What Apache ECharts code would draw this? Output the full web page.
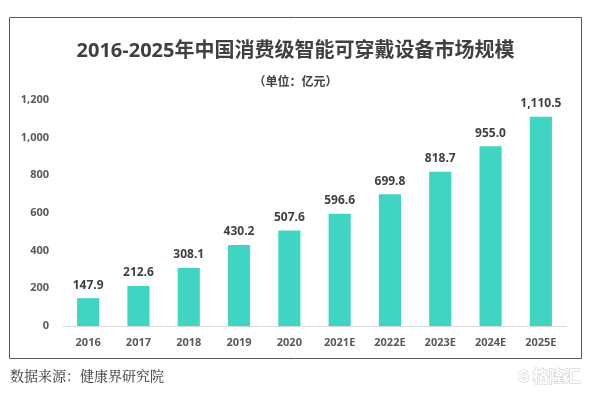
<!DOCTYPE html>
<html>
<head>
<meta charset="utf-8">
<script src="https://cdn.jsdelivr.net/npm/echarts@6/dist/echarts.min.js"></script>
<style>html,body{margin:0;padding:0;background:#fff;}#c{width:591px;height:394px;}</style>
</head>
<body>
<div id="c"></div>
<script>
const categories = ['2016','2017','2018','2019','2020','2021E','2022E','2023E','2024E','2025E'];
const values = [147.9, 212.6, 308.1, 430.2, 507.6, 596.6, 699.8, 818.7, 955.0, 1110.5];
const titleText = '2016-2025年中国消费级智能可穿戴设备市场规模';
const subtitleText = '（单位：亿元）';
const sourceText = '数据来源：健康界研究院';

const chart = echarts.init(document.getElementById('c'), null, {renderer: 'canvas'});
const fmt = v => Number(v).toLocaleString('en-US', {minimumFractionDigits: 1, maximumFractionDigits: 1});
chart.setOption({
  animation: false,
  backgroundColor: '#fff',
  title: {
    text: titleText,
    subtext: subtitleText,
    left: 'center',
    top: 36,
    itemGap: 14,
    textStyle: {fontFamily: '"Open Sans","Noto Sans CJK SC",sans-serif', fontSize: 20, fontWeight: 'bold', color: '#404040'},
    subtextStyle: {fontFamily: '"Noto Sans CJK SC",sans-serif', fontSize: 12, fontWeight: 'bold', color: '#404040'}
  },
  grid: {left: 63, right: 25, top: 100, bottom: 68, containLabel: false},
  xAxis: {
    type: 'category',
    data: categories,
    axisLine: {lineStyle: {color: '#d9d9d9', width: 1}},
    axisTick: {show: false},
    axisLabel: {color: '#595959', fontWeight: 'bold', fontSize: 11, fontFamily: '"Open Sans",sans-serif', margin: 11}
  },
  yAxis: {
    type: 'value',
    min: 0, max: 1200, interval: 200,
    splitLine: {show: false},
    axisLine: {show: false},
    axisTick: {show: false},
    axisLabel: {color: '#595959', fontWeight: 'bold', fontSize: 11, fontFamily: '"Open Sans",sans-serif', margin: 14,
      formatter: v => Number(v).toLocaleString('en-US')}
  },
  series: [{
    type: 'bar',
    data: values,
    barWidth: '44%',
    itemStyle: {color: '#40d4c2'},
    label: {show: true, position: 'top', distance: 7, color: '#404040', fontWeight: 'bold', fontSize: 12,
      fontFamily: '"Open Sans",sans-serif', formatter: p => fmt(p.value)}
  }],
  graphic: [
    {type: 'rect', shape: {x: 9.5, y: 17.5, width: 572, height: 341}, style: {fill: 'none', stroke: '#595959', lineWidth: 1}, z: -1},
    {type: 'text', left: 10, top: 369, style: {text: sourceText, font: '14px "Noto Serif CJK SC","Noto Sans CJK SC",serif', fill: '#333'}},
    {type: 'text', right: 10, top: 367, style: {text: 'G 格隆汇', font: 'bold 16px "Noto Sans CJK SC",sans-serif', fill: '#fff', stroke: '#c8c8c8', lineWidth: 1}}
  ]
});
</script>
</body>
</html>
